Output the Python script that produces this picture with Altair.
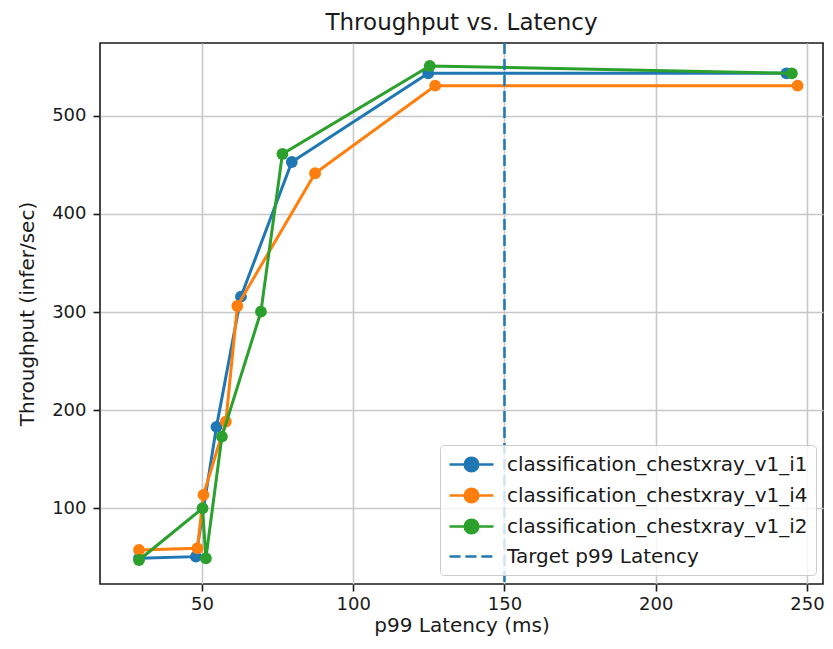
import altair as alt
import pandas as pd

# ---- data ----
series_names = [
    "classification_chestxray_v1_i1",
    "classification_chestxray_v1_i4",
    "classification_chestxray_v1_i2",
]
target_name = "Target p99 Latency"

i1_latency = [29.2, 48.0, 54.8, 62.9, 79.7, 124.8, 243.2]
i1_throughput = [49.0, 50.7, 183.0, 315.7, 453.0, 543.4, 543.4]

i4_latency = [29.2, 48.5, 50.5, 57.9, 61.7, 87.4, 127.1, 246.9]
i4_throughput = [57.5, 59.2, 113.6, 188.3, 306.2, 441.5, 530.8, 530.8]

i2_latency = [29.2, 50.2, 51.3, 56.6, 69.5, 76.6, 125.3, 245.0]
i2_throughput = [47.3, 100.0, 49.0, 173.0, 300.4, 461.2, 550.9, 543.4]

target_latency = [150]

x_ticks = [50, 100, 150, 200, 250]
y_ticks = [100, 200, 300, 400, 500]

# ---- styles ----
colors = ["#1f77b4", "#ff7f0e", "#2ca02c"]
target_color = "#1f77b4"
FONT = "DejaVu Sans"
TEXT = "#1a1a1a"

rows = []
for name, xs, ys in [
    (series_names[0], i1_latency, i1_throughput),
    (series_names[1], i4_latency, i4_throughput),
    (series_names[2], i2_latency, i2_throughput),
]:
    for k, (xv, yv) in enumerate(zip(xs, ys)):
        rows.append({"series": name, "latency": xv, "throughput": yv, "idx": k})
df = pd.DataFrame(rows)
target_df = pd.DataFrame({"series": [target_name] * len(target_latency),
                          "latency": target_latency})

domain = series_names + [target_name]
stroke_scale = alt.Scale(domain=domain, range=colors + [target_color])
fill_scale = alt.Scale(domain=domain, range=colors + ["transparent"])

# legend handles: line with a dot, and a dashed line (custom symbol paths)
LINE_DOT = "M-1,0H3.4M0.53,0A0.67,0.67,0,1,1,1.87,0A0.67,0.67,0,1,1,0.53,0Z"
LINE_DASH = "M-1,0H0.11M0.59,0H1.7M2.18,0H3.29"
shape_scale = alt.Scale(domain=domain, range=[LINE_DOT, LINE_DOT, LINE_DOT, LINE_DASH])

legend = alt.Legend(
    title=None,
    orient="none",
    legendX=340,
    legendY=402,
    padding=8,
    fillColor="rgba(255,255,255,0.8)",
    strokeColor="#cccccc",
    cornerRadius=4,
    labelFont=FONT,
    labelFontSize=20,
    labelColor=TEXT,
    labelLimit=0,
    labelOffset=36,
    symbolSize=400,
    symbolStrokeWidth=2.7,
    symbolOpacity=1,
    rowPadding=6,
)

x_enc = alt.X(
    "latency:Q",
    scale=alt.Scale(domain=[16.3, 255.3], nice=False, zero=False),
    axis=alt.Axis(title="p99 Latency (ms)", values=x_ticks, labelPadding=4, titlePadding=2),
)
y_enc = alt.Y(
    "throughput:Q",
    scale=alt.Scale(domain=[22.8, 574.3], nice=False, zero=False),
    axis=alt.Axis(title="Throughput (infer/sec)", values=y_ticks, labelPadding=7, titlePadding=14),
)

layers = []

# a layer that draws nothing visible and only drives the legend (placed first)
legend_layer = (
    alt.Chart(target_df)
    .mark_point(filled=True, opacity=0, size=1, strokeWidth=2.7)
    .encode(
        x=x_enc,
        fill=alt.Fill("series:N", scale=fill_scale, legend=legend),
        stroke=alt.Stroke("series:N", scale=stroke_scale, legend=legend),
        shape=alt.Shape("series:N", scale=shape_scale, legend=legend),
    )
)
layers.append(legend_layer)

for name in series_names:
    base = (
        alt.Chart(df)
        .transform_filter(alt.datum.series == name)
        .encode(x=x_enc, y=y_enc, order="idx:Q")
    )
    layers.append(
        base.mark_line(strokeWidth=3).encode(
            stroke=alt.Stroke("series:N", scale=stroke_scale, legend=legend)
        )
    )
    layers.append(
        base.mark_circle(size=140, opacity=1).encode(
            fill=alt.Fill("series:N", scale=fill_scale, legend=legend)
        )
    )

rule = (
    alt.Chart(target_df)
    .mark_rule(strokeWidth=2.5, strokeDash=[11, 5])
    .encode(x=x_enc, stroke=alt.Stroke("series:N", scale=stroke_scale, legend=legend))
)
layers.append(rule)

chart = (
    alt.layer(*layers)
    .properties(
        width=723,
        height=541,
        autosize=alt.AutoSizeParams(type="none"),
        padding={"left": 92, "top": 35, "right": 2, "bottom": 57},
        title=alt.TitleParams(
            "Throughput vs. Latency",
            font=FONT,
            fontSize=23,
            fontWeight="normal",
            color=TEXT,
            anchor="middle",
            frame="group",
            offset=7,
        ),
    )
    .configure_view(stroke=TEXT, strokeWidth=1.6)
    .configure_axis(
        labelFont=FONT,
        labelFontSize=18,
        labelColor=TEXT,
        titleFont=FONT,
        titleFontSize=20,
        titleFontWeight="normal",
        titleColor=TEXT,
        tickColor=TEXT,
        tickSize=7,
        tickWidth=1.6,
        domain=False,
        grid=True,
        gridColor="#c8c8c8",
        gridWidth=1.6,
    )
)

chart.save("out.html", embed_options={"renderer": "svg", "actions": False})
